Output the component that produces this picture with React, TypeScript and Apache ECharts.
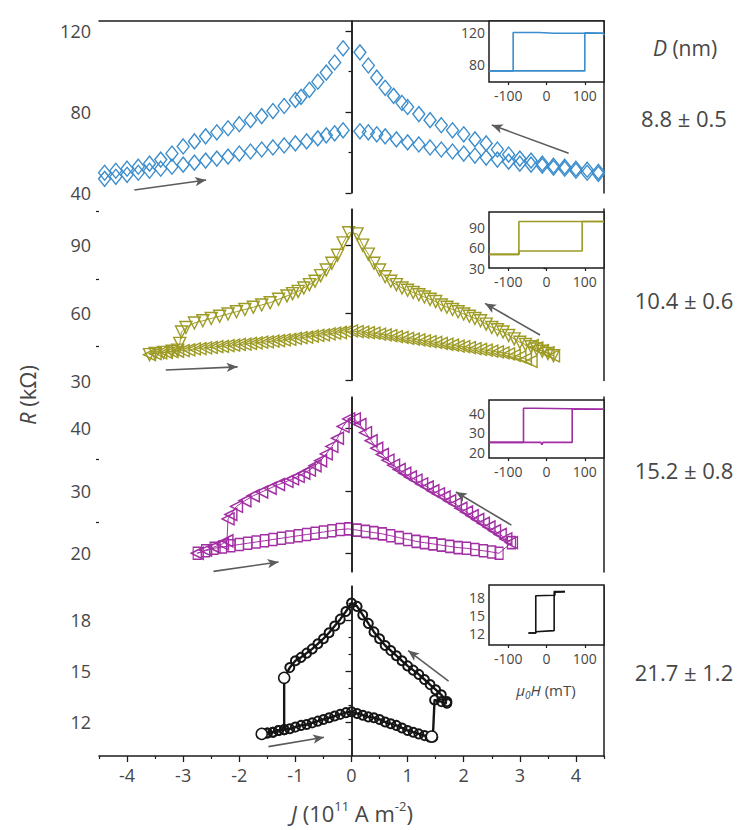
import React, { useEffect, useRef } from "react";
import * as echarts from "echarts";

// ---------- data ----------
// J in 1e11 A m^-2, R in kOhm.  "down" = upper branch (sweep towards -J), "up" = lower branch (sweep towards +J)
const P1_DOWN: number[][] = [[4.4,50.5],[4.2,51.5],[4.0,52],[3.8,53],[3.6,53.5],[3.4,54.5],[3.2,56],[3.0,57],[2.8,59],[2.6,61.5],[2.4,64.5],[2.2,66.5],[2.0,69],[1.8,71],[1.6,73.5],[1.4,76],[1.2,79],[1.0,82.5],[0.9,84.5],[0.75,88],[0.6,92],[0.45,97],[0.3,103],[0.15,109.5],[-0.15,111.5],[-0.3,104.5],[-0.45,99.5],[-0.6,95],[-0.75,91],[-0.9,87.5],[-1.0,86],[-1.2,83],[-1.4,80.5],[-1.6,78],[-1.8,76],[-2.0,74],[-2.2,72],[-2.4,70],[-2.6,68],[-2.8,65.5],[-3.0,63],[-3.2,59.5],[-3.4,56.5],[-3.6,54.5],[-3.8,53],[-4.0,52],[-4.2,51],[-4.4,50]];
const P1_UP: number[][] = [[-4.4,47],[-4.2,48],[-4.0,49],[-3.8,50],[-3.6,51],[-3.4,52],[-3.2,53],[-3.0,54],[-2.8,55],[-2.6,56],[-2.4,57],[-2.2,58],[-2.0,59.5],[-1.8,60.5],[-1.6,61.5],[-1.4,62.5],[-1.2,63.5],[-1.0,64.5],[-0.8,65.5],[-0.6,67],[-0.45,68.5],[-0.3,69.5],[-0.15,71],[0.15,70.5],[0.3,70],[0.45,69],[0.6,68],[0.8,66.5],[1.0,65],[1.2,64],[1.4,62.5],[1.6,61.5],[1.8,60.5],[2.0,59.5],[2.2,58.5],[2.4,57.5],[2.6,56.5],[2.8,55.5],[3.0,54.5],[3.2,54],[3.4,53.5],[3.6,52.5],[3.8,52],[4.0,51],[4.2,50],[4.4,49.5]];

const P2_DOWN: number[][] = [[3.6,41],[3.5,42],[3.4,43],[3.3,44],[3.2,45],[3.1,46],[3.0,47],[2.9,48.5],[2.8,50],[2.7,51.5],[2.6,52.5],[2.5,53.5],[2.4,55],[2.3,56.5],[2.2,57.5],[2.1,58.5],[2.0,59.5],[1.9,60.5],[1.8,61.5],[1.7,62.5],[1.6,63.5],[1.5,65],[1.4,66],[1.3,67],[1.2,68],[1.1,69],[1.0,70],[0.9,71],[0.8,72.5],[0.7,74],[0.6,76],[0.5,79],[0.4,82],[0.3,86],[0.2,90],[0.1,95],[-0.05,95.5],[-0.15,91],[-0.25,85.5],[-0.35,82],[-0.45,79],[-0.55,76.5],[-0.65,74],[-0.75,72.5],[-0.85,71],[-0.95,69.5],[-1.05,68.5],[-1.15,67.5],[-1.3,66],[-1.45,64.5],[-1.6,63.5],[-1.75,62.5],[-1.9,61.5],[-2.05,60.5],[-2.2,59.5],[-2.35,58.5],[-2.5,57.5],[-2.65,56.5],[-2.8,55.5],[-2.95,53.5],[-3.03,51.5],[-3.06,46.5],[-3.1,43.5],[-3.2,43],[-3.35,42.5],[-3.5,42],[-3.6,41.5]];
const P2_UP: number[][] = [[-3.6,41.5],[-3.5,42],[-3.4,42.3],[-3.3,42.5],[-3.2,42.8],[-3.1,43],[-3.0,43.3],[-2.9,43.6],[-2.8,44],[-2.7,44.2],[-2.6,44.5],[-2.5,44.7],[-2.4,45],[-2.3,45.2],[-2.2,45.5],[-2.1,45.7],[-2.0,46],[-1.9,46.2],[-1.8,46.5],[-1.7,46.7],[-1.6,47],[-1.5,47.2],[-1.4,47.5],[-1.3,47.7],[-1.2,48],[-1.1,48.3],[-1.0,48.7],[-0.9,49],[-0.8,49.3],[-0.7,49.7],[-0.6,50],[-0.5,50.3],[-0.4,50.7],[-0.3,51],[-0.2,51.3],[-0.1,51.7],[0,52],[0.1,51.7],[0.2,51.5],[0.3,51.2],[0.4,51],[0.5,50.6],[0.6,50.3],[0.7,49.9],[0.8,49.5],[0.9,49.1],[1.0,48.7],[1.1,48.4],[1.2,48],[1.3,47.6],[1.4,47.3],[1.5,46.9],[1.6,46.5],[1.7,46.1],[1.8,45.7],[1.9,45.3],[2.0,45],[2.1,44.6],[2.2,44.2],[2.3,43.8],[2.4,43.5],[2.5,43.1],[2.6,42.7],[2.7,42.3],[2.8,41.8],[2.9,41.2],[3.0,40.5],[3.1,39.5],[3.2,38.5],[3.22,45.5],[3.3,44.5],[3.4,43.3],[3.5,42.3],[3.6,41]];

const P3_DOWN: number[][] = [[2.85,21.7],[2.75,22.3],[2.65,23],[2.55,23.6],[2.45,24.2],[2.35,24.8],[2.25,25.4],[2.15,26],[2.05,26.6],[1.95,27.2],[1.85,27.9],[1.75,28.4],[1.65,29],[1.55,29.5],[1.45,30],[1.35,30.6],[1.25,31.1],[1.15,31.7],[1.05,32.2],[0.95,32.8],[0.85,33.4],[0.75,34.1],[0.65,34.9],[0.55,35.8],[0.45,36.8],[0.35,38],[0.25,39.3],[0.15,40.6],[0.05,41.5],[-0.05,41.5],[-0.15,40.3],[-0.25,38.4],[-0.35,37.1],[-0.45,35.9],[-0.55,34.8],[-0.65,34],[-0.75,33.3],[-0.85,32.8],[-0.95,32.3],[-1.05,31.9],[-1.15,31.5],[-1.3,31],[-1.45,30.4],[-1.6,29.8],[-1.75,29.2],[-1.9,28.4],[-2.05,27.5],[-2.15,26.2],[-2.2,25.5],[-2.22,22],[-2.3,21.5],[-2.45,21],[-2.6,20.5],[-2.75,20]];
const P3_UP: number[][] = [[-2.75,20],[-2.6,20.4],[-2.45,20.8],[-2.3,21],[-2.15,21.2],[-2.0,21.4],[-1.85,21.6],[-1.7,21.8],[-1.55,22],[-1.4,22.2],[-1.25,22.4],[-1.1,22.6],[-0.95,22.8],[-0.8,23],[-0.65,23.2],[-0.5,23.4],[-0.35,23.6],[-0.2,23.8],[-0.05,23.9],[0.1,23.7],[0.25,23.5],[0.4,23.3],[0.55,23.1],[0.7,22.8],[0.85,22.5],[1.0,22.2],[1.15,21.9],[1.3,21.7],[1.45,21.5],[1.6,21.3],[1.75,21.1],[1.9,20.9],[2.05,20.8],[2.2,20.6],[2.35,20.4],[2.5,20.2],[2.63,20],[2.85,21.7]];

const P4_DOWN: number[][] = [[1.7,13.2],[1.6,13.6],[1.5,13.9],[1.4,14.2],[1.3,14.5],[1.2,14.8],[1.1,15.05],[1.0,15.3],[0.9,15.6],[0.8,15.9],[0.7,16.2],[0.6,16.5],[0.5,16.9],[0.4,17.3],[0.3,17.8],[0.2,18.3],[0.1,18.8],[0,19],[-0.1,18.5],[-0.2,18.05],[-0.3,17.65],[-0.4,17.25],[-0.5,16.9],[-0.6,16.6],[-0.7,16.3],[-0.8,16.05],[-0.9,15.8],[-1.0,15.6],[-1.1,15.2],[-1.2,14.6],[-1.2,11.55],[-1.3,11.5],[-1.4,11.4],[-1.5,11.35],[-1.6,11.3]];
const P4_UP: number[][] = [[-1.6,11.3],[-1.5,11.35],[-1.4,11.4],[-1.3,11.5],[-1.2,11.55],[-1.1,11.6],[-1.0,11.7],[-0.9,11.8],[-0.8,11.85],[-0.7,11.95],[-0.6,12.05],[-0.5,12.15],[-0.4,12.25],[-0.3,12.35],[-0.2,12.45],[-0.1,12.55],[0,12.6],[0.1,12.5],[0.2,12.4],[0.3,12.3],[0.4,12.25],[0.5,12.15],[0.6,12.0],[0.7,11.9],[0.8,11.8],[0.9,11.65],[1.0,11.5],[1.1,11.4],[1.2,11.3],[1.3,11.2],[1.4,11.1],[1.45,11.1],[1.48,13.3],[1.6,13.2],[1.7,13.1]];
const P4_ENDS: number[][] = [[-1.2,14.6],[-1.6,11.3],[1.43,11.15]];

// insets: R vs mu0H (mT)
const I1_UP: number[][] = [[-150,72],[100,72],[100,120],[148,119.5],[150,117]];
const I1_DOWN: number[][] = [[150,117],[148,119.5],[20,119.5],[-20,120.5],[-87,120.5],[-87,72],[-150,72]];
const I2_UP: number[][] = [[-150,50],[-72,50],[-72,55],[93,55],[93,98],[150,98]];
const I2_DOWN: number[][] = [[150,98],[-72,98],[-72,50],[-150,50]];
const I3_UP: number[][] = [[-150,25],[-15,25],[-12,23.8],[-9,25],[67,25],[67,42],[150,42]];
const I3_DOWN: number[][] = [[150,42],[-30,42.5],[-60,42.5],[-60,25],[-150,25]];
const I4_UP: number[][] = [[-47,12],[-28,12],[-28,12.2],[20,12.4],[20,18.9],[48,18.9]];
const I4_DOWN: number[][] = [[48,18.9],[22,18.8],[22,18.3],[-28,18.2],[-28,12],[-47,12]];

// arrows [J1, R1, J2, R2]
const ARROWS: number[][][] = [
  [[-3.87,41.5,-2.59,46.4],[3.87,59.6,2.5,73.6]],
  [[-3.31,34.7,-2.03,36.1],[3.36,50.2,2.38,64.2]],
  [[-2.46,17.1,-1.3,18.6],[2.85,24.5,1.86,29.8]],
  [[-1.48,10.55,-0.49,11.1],[1.73,14.4,1.01,16.2]],
];

// tick labels
const J_TICKS = [-4,-3,-2,-1,0,1,2,3,4];
const J_MINOR = [-4.5,-3.5,-2.5,-1.5,-0.5,0.5,1.5,2.5,3.5,4.5];
const H_TICKS = [-100,0,100];
const R_TICKS = [[40,80,120],[30,60,90],[20,30,40],[12,15,18]];
const R_MINOR = [[60,100],[45,75,105],[25,35],[11,13,14,16,17,19]];
const INSET_R_TICKS = [[80,120],[30,60,90],[20,30,40],[12,15,18]];
const D_LABELS = ["8.8 \u00b1 0.5","10.4 \u00b1 0.6","15.2 \u00b1 0.8","21.7 \u00b1 1.2"];

// ---------- layout / style ----------
const COLORS = ["#3b8dcc","#9d9b24","#a22ea3","#151515"];
const AXIS = "#1c1c1c";
const LABEL = "#474747";
const ARROW = "#5c5c5c";
const NUM_FONT = "'Open Sans', sans-serif";
const TXT_FONT = "'Open Sans', sans-serif";

const MAIN = [
  { top: 21, height: 172, min: 40, max: 125 },
  { top: 209, height: 171.6, min: 30, max: 106 },
  { top: 397, height: 175, min: 17, max: 45 },
  { top: 586, height: 170, min: 10, max: 20 },
];
const INSET = [
  { top: 21, height: 61, min: 58, max: 135 },
  { top: 212, height: 56, min: 30, max: 112 },
  { top: 400, height: 58, min: 17, max: 46.7 },
  { top: 585, height: 60, min: 10, max: 20 },
];
const D_Y = [118, 300, 470, 672];

const SYMS = [
  { up: { symbol: "diamond", size: [12, 15], rot: 0 }, down: { symbol: "diamond", size: [12, 15], rot: 0 }, line: 0, bw: 1.4, lw: 1 },
  { up: { symbol: "triangle", size: [12, 12], rot: 90 }, down: { symbol: "triangle", size: [12, 12], rot: 180 }, line: 1, bw: 1.4, lw: 1 },
  { up: { symbol: "rect", size: [8, 12], rot: 0 }, down: { symbol: "triangle", size: [12, 12], rot: 90 }, line: 1, bw: 1.4, lw: 1 },
  { up: { symbol: "circle", size: 9, rot: 0 }, down: { symbol: "circle", size: 9, rot: 0 }, line: 1, bw: 2, lw: 2.4 },
];

const DATA = [
  [P1_UP, P1_DOWN],
  [P2_UP, P2_DOWN],
  [P3_UP, P3_DOWN],
  [P4_UP, P4_DOWN],
];
const INSET_DATA = [
  [I1_UP, I1_DOWN],
  [I2_UP, I2_DOWN],
  [I3_UP, I3_DOWN],
  [I4_UP, I4_DOWN],
];

const MAIN_X_INDEX = [0, 2, 3, 4];

function buildOption() {
  const grid: any[] = [];
  MAIN.forEach((p) => grid.push({ left: 99, width: 505, top: p.top, height: p.height, outerBoundsMode: "none" }));
  INSET.forEach((p) =>
    grid.push({
      left: 489, width: 115, top: p.top, height: p.height, show: true,
      borderColor: AXIS, borderWidth: 1.5, backgroundColor: "#fff", outerBoundsMode: "none", z: 3,
    })
  );

  const hidden = (gi: number) => ({ type: "value", gridIndex: gi, min: -4.5, max: 4.5, show: false });
  const xAxis: any[] = [
    hidden(0),
    {
      type: "value", gridIndex: 0, position: "top", min: -4.5, max: 4.5,
      axisLine: { show: true, lineStyle: { color: AXIS, width: 1.5 } },
      axisTick: { show: false }, axisLabel: { show: false }, splitLine: { show: false },
    },
    hidden(1),
    hidden(2),
    {
      type: "value", gridIndex: 3, position: "bottom", min: -4.5, max: 4.5,
      axisLine: { show: true, lineStyle: { color: AXIS, width: 1.5 } },
      axisTick: { show: true, customValues: J_TICKS, length: 6, lineStyle: { color: AXIS, width: 1.3 } },
      axisLabel: { show: true, customValues: J_TICKS, fontSize: 18, color: LABEL, fontFamily: NUM_FONT, margin: 10 },
      splitLine: { show: false },
    },
    {
      type: "value", gridIndex: 3, position: "bottom", min: -4.5, max: 4.5,
      axisLine: { show: false },
      axisTick: { show: true, customValues: J_MINOR, length: 3, lineStyle: { color: AXIS, width: 1.2 } },
      axisLabel: { show: false }, splitLine: { show: false },
    },
  ];
  INSET.forEach((_, i) =>
    xAxis.push({
      type: "value", gridIndex: 4 + i, min: -150, max: 150, position: "bottom",
      axisLine: { show: false },
      axisTick: { show: true, customValues: H_TICKS, length: 3, lineStyle: { color: AXIS, width: 1.2 } },
      axisLabel: { show: true, customValues: H_TICKS, fontSize: 14, color: LABEL, fontFamily: NUM_FONT, margin: 6 },
      splitLine: { show: false },
    })
  );

  const yAxis: any[] = [];
  MAIN.forEach((p, i) => {
    yAxis.push({
      type: "value", gridIndex: i, position: "left", min: p.min, max: p.max,
      axisLine: { show: true, lineStyle: { color: AXIS, width: 1.5 } },
      axisTick: { show: true, customValues: R_TICKS[i], length: 6, lineStyle: { color: AXIS, width: 1.3 } },
      axisLabel: { show: true, customValues: R_TICKS[i], fontSize: 18, color: LABEL, fontFamily: NUM_FONT, margin: 8 },
      splitLine: { show: false },
    });
    yAxis.push({
      type: "value", gridIndex: i, position: "left", min: p.min, max: p.max,
      axisLine: { show: false },
      axisTick: { show: true, customValues: R_MINOR[i], length: 3, lineStyle: { color: AXIS, width: 1.2 } },
      axisLabel: { show: false }, splitLine: { show: false },
    });
    yAxis.push({
      type: "value", gridIndex: i, position: "right", min: p.min, max: p.max,
      axisLine: { show: true, lineStyle: { color: AXIS, width: 1.5 } },
      axisTick: { show: false }, axisLabel: { show: false }, splitLine: { show: false },
    });
  });
  INSET.forEach((p, i) =>
    yAxis.push({
      type: "value", gridIndex: 4 + i, position: "left", min: p.min, max: p.max,
      axisLine: { show: false },
      axisTick: { show: true, customValues: INSET_R_TICKS[i], length: 3, lineStyle: { color: AXIS, width: 1.2 } },
      axisLabel: { show: true, customValues: INSET_R_TICKS[i], fontSize: 14, color: LABEL, fontFamily: NUM_FONT, margin: 4 },
      splitLine: { show: false },
    })
  );

  const series: any[] = [];
  DATA.forEach(([up, down], i) => {
    const color = COLORS[i];
    const s = SYMS[i];
    const mk = (data: number[][], sym: any, extra: any) => ({
      type: "line",
      xAxisIndex: MAIN_X_INDEX[i],
      yAxisIndex: i * 3,
      data,
      showSymbol: true,
      showAllSymbol: true,
      symbol: sym.symbol,
      symbolSize: sym.size,
      symbolRotate: sym.rot,
      lineStyle: { color, width: s.lw, opacity: s.line ? 1 : 0 },
      itemStyle: { color: "rgba(255,255,255,0)", borderColor: color, borderWidth: s.bw, opacity: 1 },
      emphasis: { disabled: true },
      silent: true,
      z: 2,
      ...extra,
    });
    series.push(
      mk(up, s.up, {
        markLine: {
          silent: true, symbol: ["none", "none"], label: { show: false },
          lineStyle: { color: AXIS, width: 1.5, type: "solid" },
          emphasis: { disabled: true },
          data: [{ xAxis: 0 }],
        },
      })
    );
    series.push(
      mk(down, s.down, {
        markLine: {
          silent: true, symbol: ["none", "arrow"], symbolSize: [7, 11], label: { show: false },
          lineStyle: { color: ARROW, width: 1.6, type: "solid" },
          itemStyle: { color: ARROW },
          emphasis: { disabled: true },
          data: ARROWS[i].map(([x1, y1, x2, y2]) => [{ coord: [x1, y1] }, { coord: [x2, y2] }]),
        },
      })
    );
  });
  series.push({
    type: "scatter", xAxisIndex: 4, yAxisIndex: 9, data: P4_ENDS,
    symbol: "circle", symbolSize: 11,
    itemStyle: { color: "#ffffff", borderColor: COLORS[3], borderWidth: 1.5, opacity: 1 },
    silent: true, z: 4,
  });
  INSET_DATA.forEach(([up, down], i) => {
    [up, down].forEach((d) =>
      series.push({
        type: "line", xAxisIndex: 6 + i, yAxisIndex: 12 + i, data: d,
        showSymbol: false, lineStyle: { color: COLORS[i], width: 1.6 },
        silent: true, z: 5,
      })
    );
  });

  const graphic: any[] = [
    {
      type: "text", x: 685, y: 48,
      style: {
        text: "{i|D} (nm)", fill: LABEL, font: `21px ${TXT_FONT}`, align: "center", verticalAlign: "middle",
        rich: { i: { fontStyle: "italic", fontSize: 21, fontFamily: TXT_FONT, fill: LABEL } },
      },
    },
    ...D_LABELS.map((t, i) => ({
      type: "text", x: 684, y: D_Y[i],
      style: { text: t, fill: LABEL, font: `22px ${TXT_FONT}`, align: "center", verticalAlign: "middle" },
    })),
    {
      type: "text", x: 27, y: 395, rotation: Math.PI / 2,
      style: {
        text: "{i|R} (k\u03a9)", fill: LABEL, font: `22px ${TXT_FONT}`, align: "center", verticalAlign: "middle",
        rich: { i: { fontStyle: "italic", fontSize: 22, fontFamily: TXT_FONT, fill: LABEL } },
      },
    },
    {
      type: "text", x: 352, y: 813,
      style: {
        text: "{i|J} (10{sup|11} A m{sup|-2})", fill: LABEL, font: `22px ${TXT_FONT}`, align: "center", verticalAlign: "middle",
        lineHeight: 28,
        rich: {
          i: { fontStyle: "italic", fontSize: 22, fontFamily: TXT_FONT, fill: LABEL, lineHeight: 28 },
          sup: { fontSize: 13, fontFamily: TXT_FONT, fill: LABEL, verticalAlign: "top", lineHeight: 28 },
        },
      },
    },
    {
      type: "text", x: 546, y: 690,
      style: {
        text: "{i|\u03bc}{sub|0}{i|H} (mT)", fill: LABEL, font: `15px ${NUM_FONT}`, align: "center", verticalAlign: "middle",
        lineHeight: 20,
        rich: {
          i: { fontStyle: "italic", fontSize: 15, fontFamily: NUM_FONT, fill: LABEL, lineHeight: 20 },
          sub: { fontStyle: "italic", fontSize: 10, fontFamily: NUM_FONT, fill: LABEL, verticalAlign: "bottom", lineHeight: 20 },
        },
      },
    },
  ];

  return {
    animation: false,
    backgroundColor: "#ffffff",
    grid, xAxis, yAxis, series, graphic,
  };
}

export default function App() {
  const ref = useRef<HTMLDivElement>(null);
  useEffect(() => {
    if (!ref.current) return;
    const chart = echarts.init(ref.current, undefined, { renderer: "svg" });
    chart.setOption(buildOption() as any);
    return () => chart.dispose();
  }, []);
  return (
    <div
      ref={ref}
      style={{ position: "fixed", left: 0, top: 0, width: 751, height: 830, background: "#fff" }}
    />
  );
}
